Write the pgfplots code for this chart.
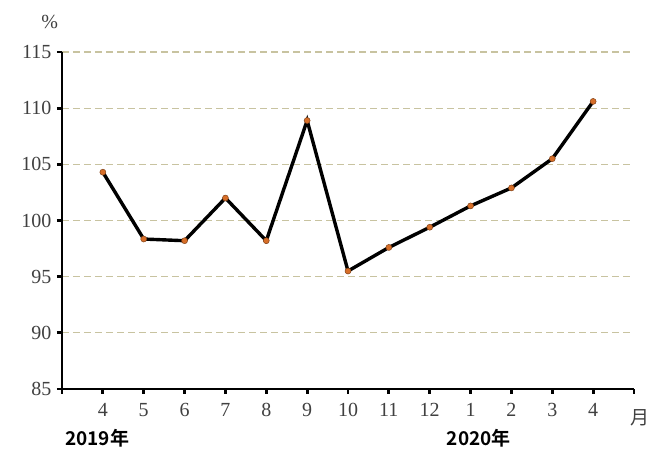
\documentclass[border=0pt]{standalone}
\usepackage{pgfplots}
\pgfplotsset{compat=1.18}
\usepackage{fontspec}
\setmainfont{Liberation Serif}
\newfontfamily\cjk{Noto Sans CJK SC}
\newfontfamily\cjkb{Noto Sans CJK SC Bold}
\definecolor{gridc}{RGB}{200,195,160}
\definecolor{markc}{RGB}{215,110,40}
\begin{document}
\begin{tikzpicture}[x=1pt,y=1pt]
\begin{axis}[
  scale only axis,
  width=572pt, height=337pt,
  xmin=0, xmax=14, ymin=85, ymax=115,
  xtick={0,...,14},
  xticklabels={,4,5,6,7,8,9,10,11,12,1,2,3,4,},
  ytick={85,90,...,115},
  axis x line*=bottom, axis y line*=left,
  axis line style={line width=2.8pt,-},
  tick align=outside,
  major tick length=5pt,
  tick style={line width=2.8pt,black},
  ymajorgrids,
  grid style={gridc,dashed,dash pattern=on 7pt off 4pt,line width=1.3pt},
  ticklabel style={font=\fontsize{20}{22}\selectfont,text=black!75},
  xticklabel style={yshift=-6pt},
  yticklabel style={xshift=-2pt},
  /pgf/number format/assume math mode=true,
  clip=false,
]
\addplot[black,line width=3.4pt,mark=*,mark size=3pt,
  mark options={fill=markc,draw=markc!60!black,line width=0.5pt}]
coordinates {
(1,104.3)(2,98.35)(3,98.2)(4,102.0)(5,98.2)(6,108.9)(7,95.5)
(8,97.6)(9,99.4)(10,101.3)(11,102.9)(12,105.5)(13,110.6)};
\node[font=\cjkb\fontsize{19}{21}\selectfont] at (axis cs:0.86,80.6) {2019年};
\node[font=\cjkb\fontsize{19}{21}\selectfont] at (axis cs:10.2,80.6) {2020年};
\node[font=\cjk\fontsize{19}{21}\selectfont,text=black!75] at (axis cs:14.15,82.4) {月};
\node[font=\fontsize{20}{22}\selectfont,text=black!75] at (axis cs:-0.3,117.7) {\%};
\end{axis}
\pgfresetboundingbox
\path ([shift={(-62pt,-64pt)}]current axis.south west) rectangle ([shift={(26pt,52pt)}]current axis.north east);
\end{tikzpicture}
\end{document}
